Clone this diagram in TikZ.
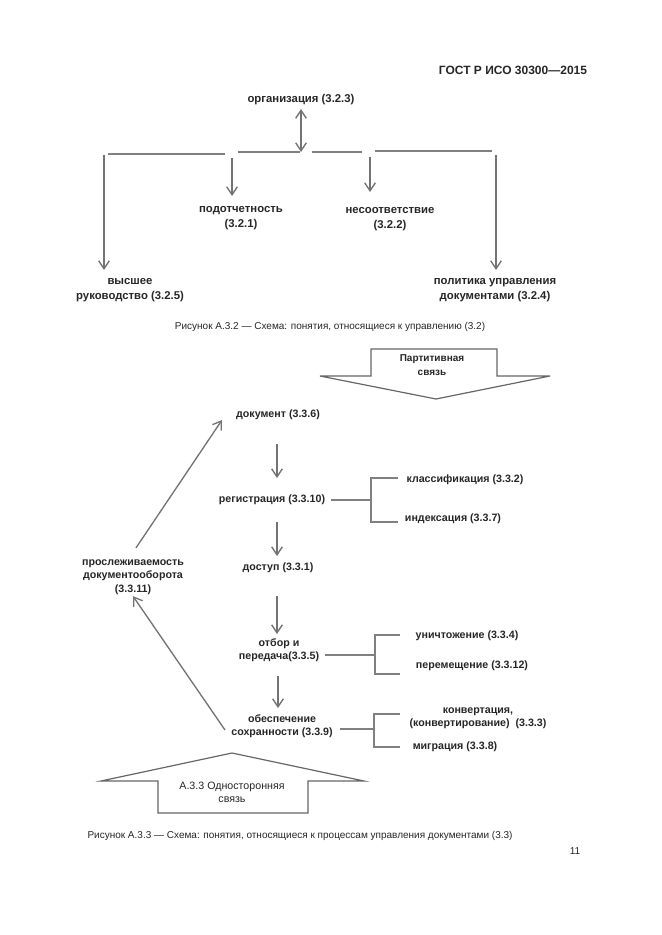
\documentclass[tikz,border=0pt]{standalone}
\usepackage{fontspec}
\setmainfont{Liberation Sans}
\usetikzlibrary{arrows.meta}
\tikzset{every picture/.style={line width=0.75pt}}
\tikzset{
  term/.style={font=\fontsize{8.5}{11}\selectfont\bfseries, text=black!85, align=center, inner sep=1pt},
  note/.style={font=\fontsize{7.5}{10}\selectfont, text=black!85, align=center, inner sep=1pt},
  link/.style={draw=black!50, line width=1pt},
  arr/.style={draw=black!55, line width=1pt, -{Straight Barb[length=6pt,width=8pt]}},
}
\begin{document}
\begin{tikzpicture}[x=0.75pt,y=0.75pt,yscale=-1,xscale=1]
\useasboundingbox (0,0) rectangle (661,935);
% header
\node [term, font=\fontsize{9}{11}\selectfont\bfseries] (hdr) at (513,70) {ГОСТ Р ИСО 30300—2015};
% Figure A.3.2
\node [term] (org) at (301,100) {организация (3.2.3)};
\coordinate (junc) at (301,152);
\draw [arr, {Straight Barb[length=6pt,width=8pt]}-{Straight Barb[length=6pt,width=8pt]}] (org.south) ++(0,2) -- (junc);
\draw [link] (108,154) -- (225,154);
\draw [link] (238,152) -- (300,152);
\draw [link] (312,152) -- (362,152);
\draw [link] (375,151) -- (492,151);
\node [term] (acc) at (241,218) {подотчетность\\(3.2.1)};
\node [term] (noncon) at (390,219) {несоответствие\\(3.2.2)};
\node [term] (mgmt) at (130,290) {высшее\\руководство (3.2.5)};
\node [term] (pol) at (495,290) {политика управления\\документами (3.2.4)};
\coordinate (a1) at (104,155);
\coordinate (a2) at (232,158);
\coordinate (a3) at (370,157);
\coordinate (a4) at (496,155);
\draw [arr] (a1) -- (104,270);
\draw [arr] (a2) -- (232,196);
\draw [arr] (a3) -- (370,192);
\draw [arr] (a4) -- (496,270);
\node [note] (cap1) at (330,327) {Рисунок А.3.2 — Схема: понятия, относящиеся к управлению (3.2)};
% Figure A.3.3
\draw [draw=black!60, line width=0.9pt] (371,376) -- (371,349) -- (497,349) -- (497,376) -- (550,376) -- (436,399) -- (320,376) -- cycle;
\node [note, font=\fontsize{7.5}{10}\selectfont\bfseries] (part) at (432,365) {Партитивная\\связь};
\node [term, font=\fontsize{8}{10}\selectfont\bfseries] (doc) at (278,415) {документ (3.3.6)};
\node [term, font=\fontsize{8}{10}\selectfont\bfseries] (reg) at (272,500) {регистрация (3.3.10)};
\node [term, font=\fontsize{8}{10}\selectfont\bfseries] (cls) at (465,480) {классификация (3.3.2)};
\node [term, font=\fontsize{8}{10}\selectfont\bfseries] (idx) at (453,519) {индексация (3.3.7)};
\node [term, font=\fontsize{8}{10}\selectfont\bfseries] (acs) at (278,568) {доступ (3.3.1)};
\node [term, font=\fontsize{8}{10}\selectfont\bfseries] (sel) at (279,650) {отбор и\\передача(3.3.5)};
\node [term, font=\fontsize{8}{10}\selectfont\bfseries] (dest) at (467,636) {уничтожение (3.3.4)};
\node [term, font=\fontsize{8}{10}\selectfont\bfseries] (mov) at (472,666) {перемещение (3.3.12)};
\node [term, font=\fontsize{8}{10}\selectfont\bfseries] (pres) at (282,726) {обеспечение\\сохранности (3.3.9)};
\node [term, font=\fontsize{8}{10}\selectfont\bfseries] (conv) at (478,718) {конвертация,\\(конвертирование)\ \ (3.3.3)};
\node [term, font=\fontsize{8}{10}\selectfont\bfseries] (mig) at (455,747) {миграция (3.3.8)};
\node [term, font=\fontsize{8}{10}\selectfont\bfseries] (trc) at (133,577) {прослеживаемость\\документооборота\\(3.3.11)};
\draw [arr] (277,444) -- (277,478);
\draw [arr] (277,522) -- (277,556);
\draw [arr] (277,596) -- (277,634);
\draw [arr] (278,676) -- (278,708);
\draw [link] (reg.east) ++(4,0) -- (371,500);
\draw [link] (398,478) -- (371,478) -- (371,522) -- (398,522);
\draw [link] (sel.east) ++(4,5) -- (375,655);
\draw [link] (400,635) -- (375,635) -- (375,674) -- (400,674);
\draw [link] (340,729) -- (374,729);
\draw [link] (400,714) -- (374,714) -- (374,747) -- (400,747);
\draw [arr] (trc.north) ++(3,-10) -- (222,420);
\draw [arr] (225,730) -- (trc.south);
\draw [draw=black!60, line width=0.9pt] (232,753) -- (364,781) -- (308,781) -- (308,813) -- (158,813) -- (158,781) -- (101,781) -- cycle;
\node [note, font=\fontsize{8}{10}\selectfont] (oneway) at (232,792) {А.3.3 Односторонняя\\связь};
\node [note] (cap2) at (300,836) {Рисунок А.3.3 — Схема: понятия, относящиеся к процессам управления документами (3.3)};
\node [note] (pg) at (575,851) {11};
\end{tikzpicture}
\end{document}
